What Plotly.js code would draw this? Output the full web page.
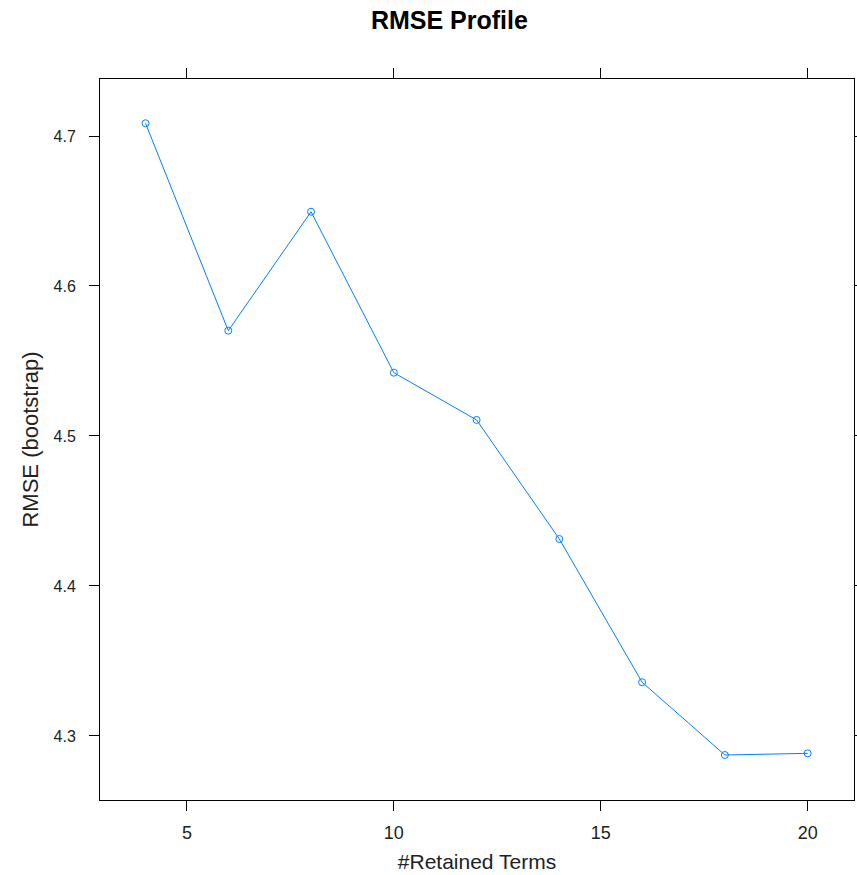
<!DOCTYPE html>
<html>
<head>
<meta charset="utf-8">
<script src="https://cdn.plot.ly/plotly-3.0.1.min.js"></script>
<style>html,body{margin:0;padding:0;background:#fff;}#chart{width:857px;height:875px;}</style>
</head>
<body>
<div id="chart"></div>
<script>
var retainedTerms = [4, 6, 8, 10, 12, 14, 16, 18, 20];
var rmse = [4.7085, 4.5702, 4.6495, 4.5422, 4.5107, 4.4313, 4.3358, 4.2873, 4.2884];
var xTicks = [5, 10, 15, 20];
var yTicks = [4.3, 4.4, 4.5, 4.6, 4.7];

var trace = {
  x: retainedTerms,
  y: rmse,
  type: 'scatter',
  mode: 'lines+markers',
  line: {color: '#0080ff', width: 1},
  marker: {symbol: 'circle-open', size: 7, color: '#0080ff', line: {width: 1, color: '#0080ff'}},
  hoverinfo: 'x+y'
};

var fontFam = '"Liberation Sans", Arial, sans-serif';
var layout = {
  width: 857, height: 875,
  margin: {l: 100, r: 3, t: 79, b: 75},
  paper_bgcolor: '#fff', plot_bgcolor: '#fff',
  showlegend: false,
  title: {text: '<b>RMSE Profile</b>', font: {family: fontFam, size: 25, color: '#000'}, x: 0.5244, xanchor: 'center', y: 0.9766, yanchor: 'middle'},
  xaxis: {
    range: [2.9, 21.12],
    tickvals: xTicks, ticktext: xTicks.map(String),
    ticks: 'outside', ticklen: 10, tickwidth: 1, tickcolor: '#000',
    showline: true, linecolor: '#000', linewidth: 1, mirror: 'ticks',
    showgrid: false, zeroline: false,
    ticklabelstandoff: 6,
    tickfont: {family: fontFam, size: 18, color: '#222'},
    title: {text: '#Retained Terms', font: {family: fontFam, size: 21, color: '#222'}, standoff: 12}
  },
  yaxis: {
    range: [4.2573, 4.738],
    tickvals: yTicks, ticktext: yTicks.map(function(v){return v.toFixed(1);}),
    ticks: 'outside', ticklen: 10, tickwidth: 1, tickcolor: '#000',
    showline: true, linecolor: '#000', linewidth: 1, mirror: 'ticks',
    showgrid: false, zeroline: false,
    ticklabelstandoff: 10,
    tickfont: {family: fontFam, size: 16, color: '#222'},
    title: {text: 'RMSE (bootstrap)', font: {family: fontFam, size: 22, color: '#222'}, standoff: 8}
  }
};

Plotly.newPlot('chart', [trace], layout, {displayModeBar: false, staticPlot: true});
</script>
</body>
</html>
